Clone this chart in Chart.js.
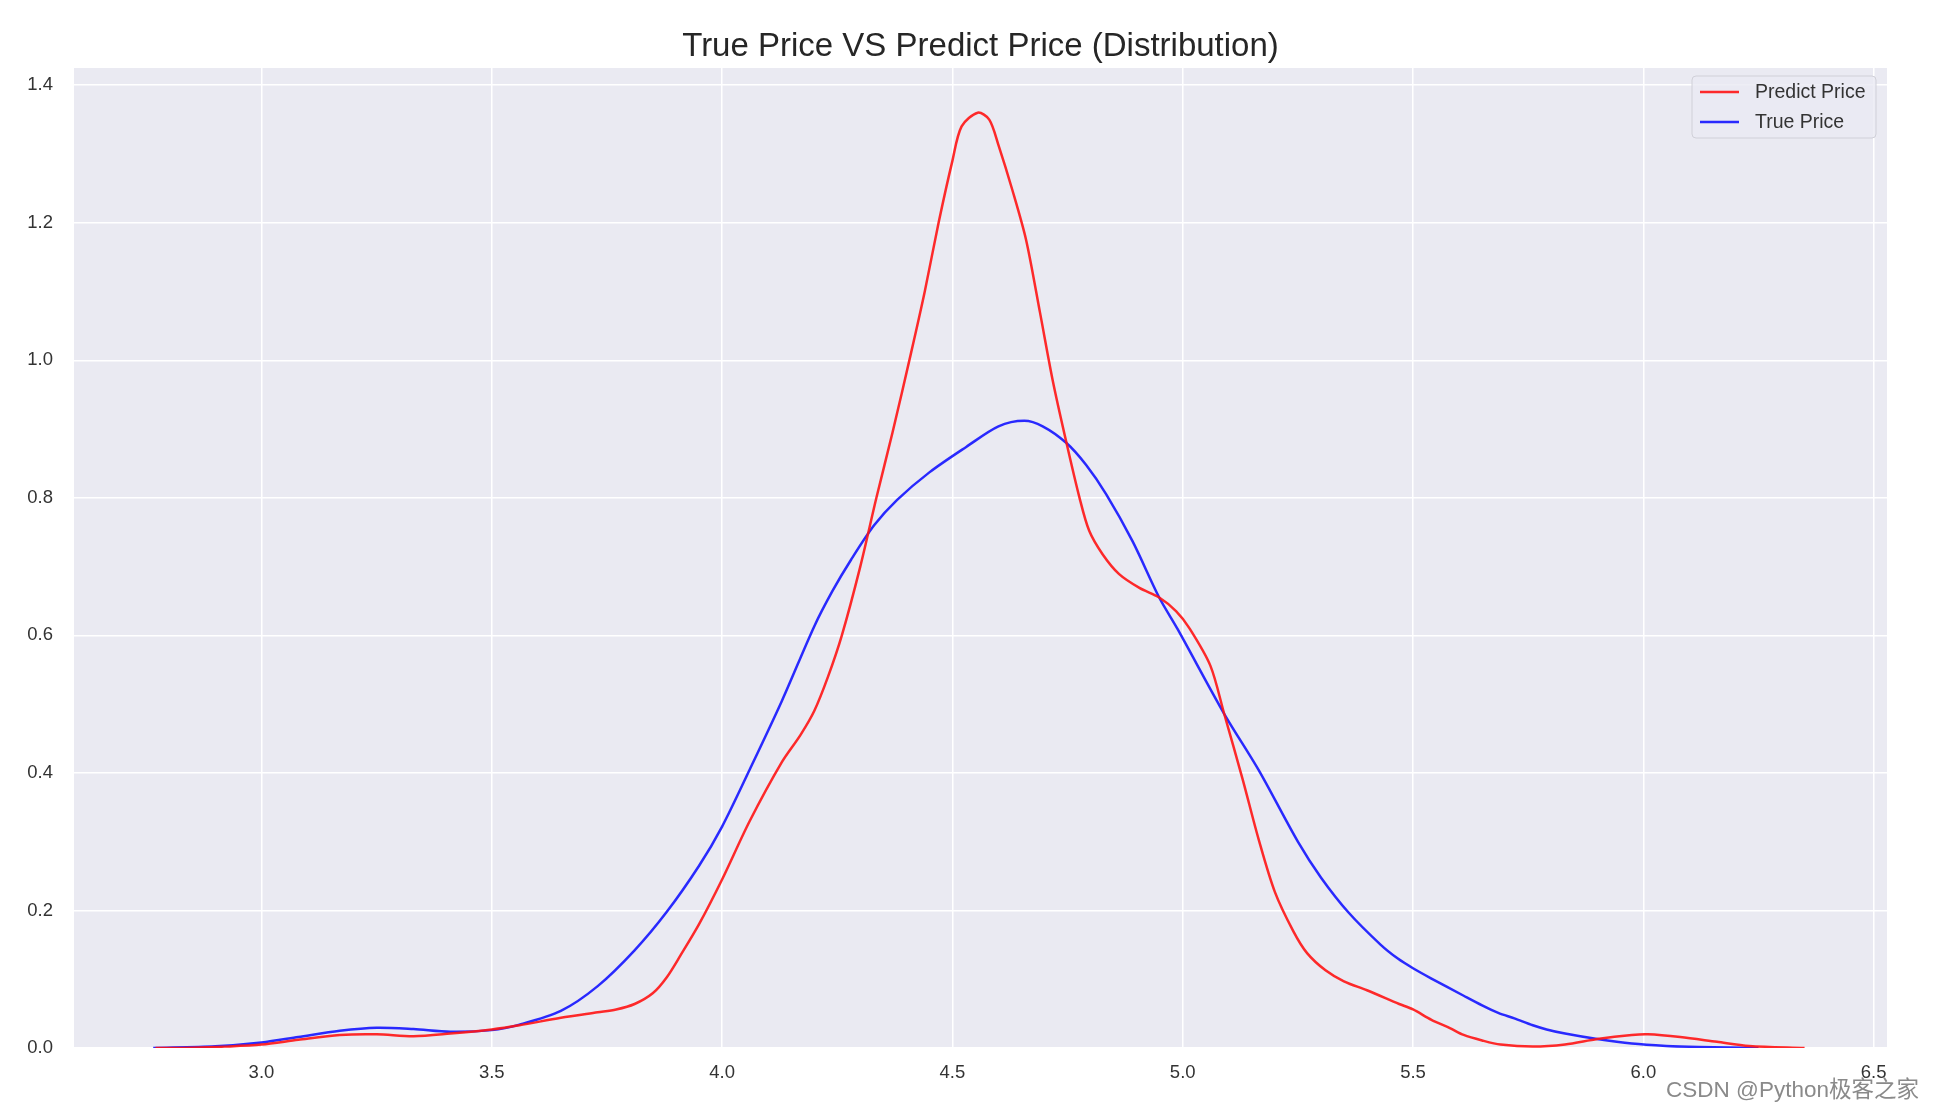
<!DOCTYPE html>
<html>
<head>
<meta charset="utf-8">
<script src="https://cdn.jsdelivr.net/npm/chart.js@4.4.1/dist/chart.umd.min.js"></script>
<style>
  html, body { margin: 0; padding: 0; background: #fff; }
  #wrap { width: 1934px; height: 1112px; position: relative; }
</style>
</head>
<body>
<div id="wrap"><canvas id="kde"></canvas></div>
<script>
// predicted price density (red)
const predictX = [2.77, 2.85, 2.92, 3.0, 3.08, 3.17, 3.25, 3.33, 3.41, 3.5, 3.56, 3.65, 3.73, 3.77, 3.81, 3.85, 3.88, 3.91, 3.95,
  4.0, 4.06, 4.13, 4.17, 4.2, 4.23, 4.26, 4.3, 4.335, 4.37, 4.41, 4.44, 4.47, 4.5, 4.52, 4.555, 4.58, 4.6, 4.63, 4.66, 4.69,
  4.718, 4.747, 4.776, 4.797, 4.826, 4.862, 4.906, 4.949, 4.986, 5.014, 5.06, 5.09, 5.13, 5.165, 5.2, 5.24, 5.27, 5.31, 5.35,
  5.4, 5.47, 5.5, 5.54, 5.58, 5.61, 5.65, 5.69, 5.76, 5.83, 5.9, 5.975, 6.01, 6.08, 6.16, 6.23, 6.35];
const predictY = [0, 0.0005, 0.002, 0.005, 0.012, 0.019, 0.020, 0.017, 0.021, 0.027, 0.033, 0.044, 0.052, 0.056, 0.064, 0.08, 0.103, 0.135, 0.18,
  0.245, 0.33, 0.416, 0.455, 0.49, 0.54, 0.6, 0.7, 0.8, 0.895, 1.01, 1.1, 1.2, 1.29, 1.34, 1.36, 1.35, 1.313, 1.248, 1.175, 1.07,
  0.97, 0.882, 0.80, 0.752, 0.718, 0.689, 0.669, 0.655, 0.635, 0.611, 0.556, 0.486, 0.391, 0.303, 0.227, 0.17, 0.138, 0.113, 0.097,
  0.084, 0.064, 0.056, 0.041, 0.029, 0.019, 0.011, 0.005, 0.002, 0.005, 0.013, 0.019, 0.020, 0.016, 0.009, 0.003, 0];

// true price density (blue)
const trueX = [2.765, 2.9, 3.0, 3.08, 3.17, 3.25, 3.33, 3.41, 3.5, 3.56, 3.65, 3.73, 3.81, 3.88, 3.95, 4.0, 4.06, 4.13, 4.2, 4.24,
  4.28, 4.33, 4.38, 4.45, 4.53, 4.6, 4.656, 4.696, 4.747, 4.79, 4.834, 4.891, 4.949, 4.989, 5.09, 5.165, 5.25, 5.3, 5.36, 5.43,
  5.467, 5.5, 5.54, 5.61, 5.65, 5.685, 5.72, 5.76, 5.79, 5.83, 5.9, 5.975, 6.05, 6.12, 6.25];
const trueY = [0, 0.0025, 0.008, 0.016, 0.025, 0.0295, 0.0275, 0.0236, 0.026, 0.034, 0.054, 0.09, 0.142, 0.198, 0.265, 0.322, 0.405, 0.505, 0.613, 0.665,
  0.71, 0.76, 0.797, 0.837, 0.874, 0.904, 0.912, 0.904, 0.88, 0.848, 0.805, 0.737, 0.655, 0.609, 0.486, 0.404, 0.3, 0.248, 0.197, 0.15,
  0.13, 0.116, 0.101, 0.076, 0.062, 0.051, 0.043, 0.033, 0.027, 0.021, 0.013, 0.0064, 0.003, 0.0015, 0];

const xTicks = [3.0, 3.5, 4.0, 4.5, 5.0, 5.5, 6.0, 6.5];
const yTicks = [0.0, 0.2, 0.4, 0.6, 0.8, 1.0, 1.2, 1.4];

const FONT = '"Liberation Sans", Arial, sans-serif';

const plotBg = {
  id: 'plotBg',
  beforeDraw(chart) {
    const { ctx, chartArea: a } = chart;
    ctx.save();
    ctx.fillStyle = '#eaeaf2';
    ctx.fillRect(a.left, a.top, a.right - a.left, a.bottom - a.top);
    ctx.restore();
  }
};

// legend box in the upper right corner, stacked like matplotlib
const boxLegend = {
  id: 'boxLegend',
  afterDraw(chart) {
    const { ctx, chartArea: a } = chart;
    const w = 184, h = 62;
    const x = a.right - 11 - w, y = a.top + 8;
    ctx.save();
    ctx.beginPath();
    ctx.roundRect(x, y, w, h, 4);
    ctx.fillStyle = 'rgba(234,234,242,0.8)';
    ctx.fill();
    ctx.strokeStyle = '#d0d0d8';
    ctx.lineWidth = 1;
    ctx.stroke();
    ctx.font = '19.5px ' + FONT;
    ctx.textBaseline = 'middle';
    chart.data.datasets.forEach((ds, i) => {
      const ly = y + 16 + i * 30;
      ctx.beginPath();
      ctx.moveTo(x + 8, ly);
      ctx.lineTo(x + 47, ly);
      ctx.strokeStyle = ds.borderColor;
      ctx.lineWidth = 2.5;
      ctx.stroke();
      ctx.fillStyle = '#333';
      ctx.fillText(ds.label, x + 63, ly + 1);
    });
    ctx.restore();
  }
};

const watermark = {
  id: 'watermark',
  afterDraw(chart) {
    const { ctx } = chart;
    ctx.save();
    ctx.font = '22.5px "Liberation Sans", "Noto Sans CJK SC", sans-serif';
    ctx.fillStyle = '#8a8a8a';
    ctx.textAlign = 'right';
    ctx.textBaseline = 'middle';
    ctx.fillText('CSDN @Python极客之家', 1919, 1091);
    ctx.restore();
  }
};

new Chart(document.getElementById('kde'), {
  type: 'line',
  data: {
    datasets: [
      {
        label: 'Predict Price',
        data: predictX.map((x, i) => ({ x: x, y: predictY[i] })),
        borderColor: 'rgba(255, 20, 20, 0.9)',
        borderWidth: 2.5,
        pointRadius: 0,
        tension: 0.3,
        fill: false
      },
      {
        label: 'True Price',
        data: trueX.map((x, i) => ({ x: x, y: trueY[i] })),
        borderColor: 'rgba(20, 20, 255, 0.9)',
        borderWidth: 2.5,
        pointRadius: 0,
        tension: 0.3,
        fill: false
      }
    ]
  },
  options: {
    responsive: true,
    maintainAspectRatio: false,
    animation: false,
    layout: { padding: { left: 0, right: 47, top: 0, bottom: 0 } },
    plugins: {
      legend: { display: false },
      tooltip: { enabled: false },
      title: {
        display: true,
        fullSize: false,
        text: 'True Price VS Predict Price (Distribution)',
        color: '#262626',
        font: { family: FONT, size: 33, weight: 'normal', lineHeight: 1.2 },
        padding: { top: 27, bottom: 1.4 }
      }
    },
    scales: {
      x: {
        type: 'linear',
        min: 2.593,
        max: 6.529,
        afterBuildTicks: s => { s.ticks = xTicks.map(v => ({ value: v })); },
        afterFit: s => { s.height = 64; },
        border: { display: false },
        grid: { color: '#ffffff', lineWidth: 1.5, drawTicks: false },
        ticks: {
          padding: 14,
          maxRotation: 0,
          color: '#333',
          font: { family: FONT, size: 18.5 },
          callback: v => v.toFixed(1)
        }
      },
      y: {
        min: 0,
        max: 1.425,
        afterBuildTicks: s => { s.ticks = yTicks.map(v => ({ value: v })); },
        afterFit: s => { s.width = 74; },
        border: { display: false },
        grid: { color: '#ffffff', lineWidth: 1.5, drawTicks: false },
        ticks: {
          padding: 21,
          color: '#333',
          font: { family: FONT, size: 18.5 },
          callback: v => v.toFixed(1)
        }
      }
    }
  },
  plugins: [plotBg, boxLegend, watermark]
});
</script>
</body>
</html>
